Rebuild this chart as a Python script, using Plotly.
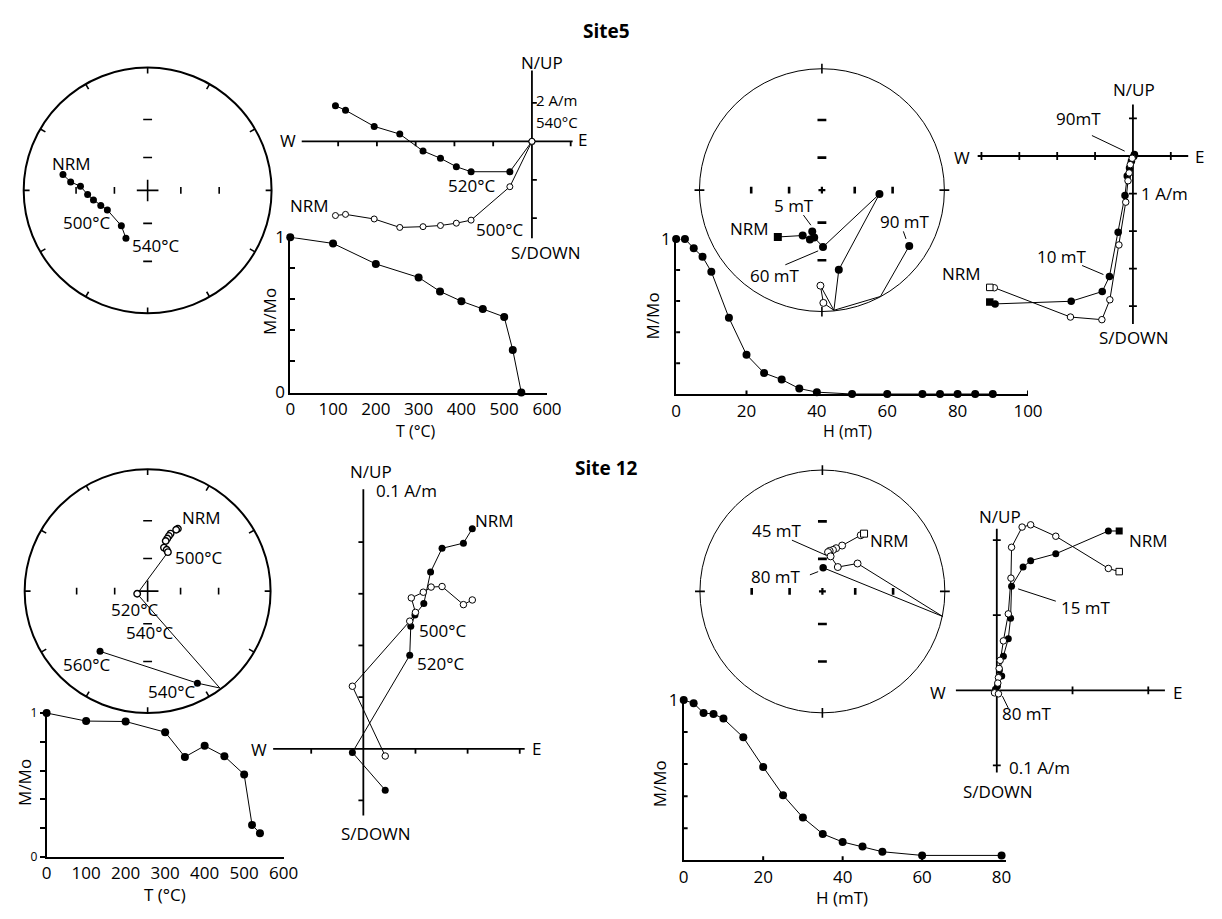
import numpy as np
import plotly.graph_objects as go

W, H = 1222, 919
FONT = "Open Sans"
FS = 17

# ======================= DATA =======================
# ---- Site 5, thermal demagnetisation ----
s5t_temp = [0, 100, 200, 300, 350, 400, 450, 500, 520, 540]
s5t_mmo = [1.0, 0.96, 0.828, 0.741, 0.651, 0.588, 0.538, 0.487, 0.274, 0.0]
# stereonet (stereographic projection, unit radius; x = East, y = North)
s5t_st_x = [-0.683, -0.621, -0.542, -0.484, -0.437, -0.378, -0.325, -0.212, -0.175]
s5t_st_y = [0.129, 0.069, 0.034, -0.034, -0.077, -0.122, -0.159, -0.288, -0.389]
s5t_st_kind = ["f"] * 9
# Zijderveld (A/m): E shared, N (horizontal plane), Up (vertical plane)
s5t_zij_e = [-10.14, -9.62, -8.14, -6.82, -5.62, -4.72, -3.90, -3.14, -1.14, 0.0]
s5t_zij_n = [1.86, 1.62, 0.78, 0.38, -0.50, -0.88, -1.32, -1.58, -1.58, 0.0]
s5t_zij_up = [-3.86, -3.80, -4.04, -4.48, -4.44, -4.38, -4.26, -4.10, -2.36, 0.0]

# ---- Site 5, AF demagnetisation ----
s5a_field = [0, 2.5, 5, 7.5, 10, 15, 20, 25, 30, 35, 40, 50, 60, 70, 75, 80, 85, 90]
s5a_mmo = [1.0, 1.0, 0.939, 0.885, 0.789, 0.493, 0.255, 0.138, 0.096, 0.038, 0.015,
           0.003, 0.003, 0.003, 0.003, 0.003, 0.003, 0.003]
s5a_st_x = [-0.360, -0.157, -0.098, -0.079, -0.063, 0.009, 0.470, 0.138, 0.098,
            -0.012, 0.012, 0.098, 0.478, 0.713]
s5a_st_y = [-0.386, -0.374, -0.407, -0.340, -0.391, -0.468, -0.032, -0.656, -0.990,
            -0.787, -0.929, -0.990, -0.876, -0.460]
s5a_st_kind = ["fs", "f", "f", "f", "f", "f", "f", "f", "e", "o", "o", "e", "e", "f"]
s5a_zij_he = [-3.78, -3.64, -1.63, -0.81, -0.62, -0.39, -0.21, -0.15, -0.09, -0.04, 0.02, 0.04]
s5a_zij_hn = [-3.89, -3.94, -3.87, -3.61, -3.21, -2.03, -1.05, -0.53, -0.32, -0.14, -0.01, 0.04]
s5a_zij_h_kind = ["fs"] + ["f"] * 11
s5a_zij_ve = [-3.78, -3.66, -1.65, -0.82, -0.61, -0.37, -0.19, -0.13, -0.10, -0.07, -0.02]
s5a_zij_vu = [-3.50, -3.51, -4.29, -4.36, -3.83, -2.37, -1.23, -0.66, -0.45, -0.23, -0.06]
s5a_zij_v_kind = ["os"] + ["o"] * 10

# ---- Site 12, thermal demagnetisation ----
s12t_temp = [0, 100, 200, 300, 350, 400, 450, 500, 520, 540]
s12t_mmo = [1.0, 0.944, 0.941, 0.867, 0.695, 0.772, 0.700, 0.573, 0.223, 0.165]
s12t_st_x = [0.246, 0.232, 0.187, 0.173, 0.160, 0.147, 0.133, 0.155, 0.165, -0.085,
             0.587, 0.405, -0.387]
s12t_st_y = [0.512, 0.504, 0.472, 0.453, 0.432, 0.411, 0.357, 0.339, 0.320, -0.022,
             -0.795, -0.755, -0.494]
s12t_st_kind = ["o"] * 10 + ["e", "f", "f"]
s12t_zij_he = [0.0418, 0.0384, 0.0302, 0.0258, 0.0232, 0.0198, 0.0182, 0.0178, -0.0042, 0.0084]
s12t_zij_hn = [0.0852, 0.0796, 0.0776, 0.0684, 0.0562, 0.0518, 0.0474, 0.0362, -0.0014, -0.0160]
s12t_zij_ve = [0.0418, 0.0384, 0.0302, 0.0260, 0.0230, 0.0184, 0.0200, 0.0178, -0.0042, 0.0084]
s12t_zij_vu = [0.0576, 0.0558, 0.0628, 0.0626, 0.0606, 0.0584, 0.0528, 0.0494, 0.0242, -0.0028]

# ---- Site 12, AF demagnetisation ----
s12a_field = [0, 2.5, 5, 7.5, 10, 15, 20, 25, 30, 35, 40, 45, 50, 60, 80]
s12a_mmo = [1.0, 0.980, 0.919, 0.913, 0.884, 0.767, 0.582, 0.406, 0.266, 0.164, 0.114,
            0.085, 0.053, 0.030, 0.030]
s12a_st_x = [0.340, 0.313, 0.161, 0.112, 0.086, 0.059, 0.046, 0.067, 0.126, 0.287, 0.982, 0.006]
s12a_st_y = [0.476, 0.463, 0.378, 0.356, 0.342, 0.334, 0.324, 0.289, 0.201, 0.230, -0.206, 0.195]
s12a_st_kind = ["os"] + ["o"] * 9 + ["e", "f"]
s12a_zij_he = [0.1616, 0.1473, 0.0779, 0.0447, 0.0347, 0.0195, 0.0182, 0.0152, 0.0087,
               0.0035, 0.0065, 0.0009, -0.0017]
s12a_zij_hn = [0.2122, 0.2122, 0.1818, 0.1727, 0.1641, 0.1386, 0.0961, 0.0688, 0.0455,
               0.0269, 0.0191, 0.0057, 0.0013]
s12a_zij_h_kind = ["fs"] + ["f"] * 12
s12a_zij_ve = [0.1616, 0.1473, 0.0779, 0.0447, 0.0334, 0.0195, 0.0187, 0.0152, 0.0087,
               0.0044, 0.0031, 0.0022, 0.0013, -0.0030, 0.0022]
s12a_zij_vu = [0.1581, 0.1623, 0.2052, 0.2204, 0.2174, 0.1905, 0.1494, 0.1018, 0.0658,
               0.0399, 0.0291, 0.0169, 0.0096, -0.0034, -0.0047]
s12a_zij_v_kind = ["os"] + ["o"] * 14

INC_TICKS = [30, 60]          # inclination graticule on stereonets
M_TICKS = [0, 0.2, 0.4, 0.6, 0.8, 1.0]

# ======================= HELPERS =======================
fig = go.Figure()
shapes, annotations = [], []
layout = dict(width=W, height=H, margin=dict(l=0, r=0, t=0, b=0),
              paper_bgcolor="white", plot_bgcolor="rgba(0,0,0,0)", showlegend=False,
              font=dict(family=FONT, size=FS, color="black"))


def ax_names(n):
    s = "" if n == 1 else str(n)
    return "x" + s, "y" + s, "xaxis" + s, "yaxis" + s


def place_axes(n, box, origin, scale):
    xr, yr, xk, yk = ax_names(n)
    l, r, t, b = box
    ox, oy = origin
    layout[xk] = dict(domain=[l / W, r / W], range=[(l - ox) / scale, (r - ox) / scale],
                      anchor=yr, visible=False, fixedrange=True)
    layout[yk] = dict(domain=[1 - b / H, 1 - t / H], range=[(oy - b) / scale, (oy - t) / scale],
                      anchor=xr, visible=False, fixedrange=True)


def lines(n, x, y, width=1.0):
    xr, yr, _, _ = ax_names(n)
    fig.add_trace(go.Scatter(x=x, y=y, mode="lines", line=dict(color="black", width=width),
                             xaxis=xr, yaxis=yr, hoverinfo="skip", cliponaxis=False))


SYM = {"f": ("circle", True), "o": ("circle", False), "fs": ("square", True), "os": ("square", False)}


def points(n, x, y, kinds, size=7.5, osize=6.5, owidth=1.0):
    xr, yr, _, _ = ax_names(n)
    for k, (sym, filled) in SYM.items():
        idx = [i for i, kk in enumerate(kinds) if kk == k]
        if not idx:
            continue
        fig.add_trace(go.Scatter(
            x=[x[i] for i in idx], y=[y[i] for i in idx], mode="markers",
            marker=dict(symbol=sym, size=size if filled else osize,
                        color="black" if filled else "white",
                        line=dict(color="black", width=0 if filled else owidth)),
            xaxis=xr, yaxis=yr, hoverinfo="skip", cliponaxis=False))


def segs(pairs):
    xs, ys = [], []
    for (x0, y0, x1, y1) in pairs:
        xs += [x0, x1, None]
        ys += [y0, y1, None]
    return xs, ys


def stereonet(n, cx, cy, R, heavy):
    pad = 14
    place_axes(n, (cx - R - pad, cx + R + pad, cy - R - pad, cy + R + pad), (cx, cy), R)
    xr, yr, _, _ = ax_names(n)
    shapes.append(dict(type="circle", xref=xr, yref=yr, x0=-1, y0=-1, x1=1, y1=1,
                       line=dict(color="black", width=2 if heavy else 1)))
    p = 1.0 / R
    pairs = []
    if heavy:
        for az in range(0, 360, 30):
            a = np.radians(az)
            pairs.append((np.sin(a), np.cos(a), (1 - 6 * p) * np.sin(a), (1 - 6 * p) * np.cos(a)))
    else:
        for az in range(0, 360, 90):
            a = np.radians(az)
            pairs.append(((1 - 5 * p) * np.sin(a), (1 - 5 * p) * np.cos(a),
                          (1 + 5 * p) * np.sin(a), (1 + 5 * p) * np.cos(a)))
    xs, ys = segs(pairs)
    lines(n, xs, ys, 1.6)
    radii = [np.tan(np.radians(90 - i) / 2) for i in INC_TICKS]
    pairs = []
    for r in radii:
        for s in (-1, 1):
            pairs.append((s * r, -3.5 * p, s * r, 3.5 * p))
            pairs.append((-4.5 * p, s * r, 4.5 * p, s * r))
    xs, ys = segs(pairs)
    lines(n, xs, ys, 1.6 if heavy else 2.6)
    c = (11 if heavy else 3.5) * p
    xs, ys = segs([(-c, 0, c, 0), (0, -c, 0, c)])
    lines(n, xs, ys, 1.6 if heavy else 2.2)


def stereo_data(n, x, y, kinds, size=7.5, osize=6.5, owidth=1.0):
    lines(n, x, y, 1.0)
    points(n, x, y, kinds, size, osize, owidth)


def zij(n, box, origin, scale, hx, vy, xt, yt, xside, yside, tl=5):
    place_axes(n, box, origin, scale)
    p = 1.0 / scale
    xs, ys = segs([(hx[0], 0, hx[1], 0), (0, vy[0], 0, vy[1])])
    lines(n, xs, ys, 1.8)
    pairs = []
    xo = {"down": (-tl * p, 0), "cross": (-tl * p, tl * p), "up": (0, tl * p)}[xside]
    yo = {"left": (-tl * p, 0), "cross": (-tl * p, tl * p), "right": (0, tl * p)}[yside]
    for t in xt:
        pairs.append((t, xo[0], t, xo[1]))
    for t in yt:
        pairs.append((yo[0], t, yo[1], t))
    xs, ys = segs(pairs)
    lines(n, xs, ys, 1.8)


def demag(n, box, xmax, xtickvals, yticktext, ytick_mode, ylabsize, xtick_cross=()):
    l, r, t, b = box
    xr, yr, xk, yk = ax_names(n)
    layout[xk] = dict(domain=[l / W, r / W], range=[0, xmax], anchor=yr, showline=True,
                      linecolor="black", linewidth=1.8, ticks="", tickvals=xtickvals,
                      tickfont=dict(size=FS), showgrid=False, zeroline=False, fixedrange=True)
    ya = dict(domain=[1 - b / H, 1 - t / H], range=[0, 1], anchor=xr, showline=True,
              linecolor="black", linewidth=1.8, tickvals=M_TICKS, ticktext=yticktext,
              tickfont=dict(size=ylabsize), showgrid=False, zeroline=False, fixedrange=True)
    if ytick_mode in ("inside", "outside"):
        ya.update(ticks=ytick_mode, ticklen=5, tickwidth=1.5, tickcolor="black")
    else:
        ya.update(ticks="")
    layout[yk] = ya
    if ytick_mode == "cross":
        px = xmax / (r - l)
        py = 1.0 / (b - t)
        pairs = [(-4 * px, v, 4 * px, v) for v in M_TICKS[1:-1]]
        pairs += [(v, -4 * py, v, 4 * py) for v in xtick_cross]
        xs, ys = segs(pairs)
        lines(n, xs, ys, 2)


def label(text, px, py, size=FS, angle=0, xanchor="center"):
    annotations.append(dict(text=text, x=px / W, y=1 - py / H, xref="paper", yref="paper",
                            showarrow=False, textangle=angle, xanchor=xanchor, yanchor="middle",
                            borderpad=0,
                            font=dict(family=FONT, size=size, color="black")))


def leader(x0, y0, x1, y1):
    shapes.append(dict(type="line", xref="paper", yref="paper", x0=x0 / W, y0=1 - y0 / H,
                       x1=x1 / W, y1=1 - y1 / H, line=dict(color="black", width=1)))


# ======================= SITE 5 — THERMAL =======================
stereonet(1, 145, 183, 126, heavy=True)
stereo_data(1, s5t_st_x, s5t_st_y, s5t_st_kind, size=7)
label("NRM", 68, 155)
label("500°C", 83, 216)
label("540°C", 153, 240)

zij(2, (285, 600, 42, 255), (535.7, 132.7), 19.7, (-11.88, 2.10), (-5.04, 3.69),
    [-10, -8, -6, -4, -2, 2], [2, -2, -4], "down", "right")
lines(2, s5t_zij_e, s5t_zij_n, 1.0)
lines(2, s5t_zij_e, s5t_zij_up, 1.0)
points(2, s5t_zij_e, s5t_zij_n, ["f"] * len(s5t_zij_e), size=7)
points(2, s5t_zij_e, s5t_zij_up, ["o"] * len(s5t_zij_e), osize=6)
label("W", 288, 132)
label("E", 587, 131)
label("N/UP", 546, 52)
label("S/DOWN", 550, 247)
label("2 A/m", 561, 90, size=15)
label("540°C", 561, 113, size=15)
label("NRM", 310, 198)
label("520°C", 474, 178)
label("500°C", 503, 223)

demag(3, (290, 551, 231, 390.3), 600, [0, 100, 200, 300, 400, 500, 600],
      ["0", "", "", "", "", "1"], "inside", FS)
lines(3, s5t_temp, s5t_mmo, 1.0)
points(3, s5t_temp, s5t_mmo, ["f"] * len(s5t_temp), size=8)
label("M/Mo", 269, 307, angle=-90)
label("T (°C)", 418, 430, size=16)

# ======================= SITE 5 — AF =======================
stereonet(4, 830.5, 182.7, 124.5, heavy=False)
stereo_data(4, s5a_st_x, s5a_st_y, s5a_st_kind, size=8, osize=7)
label("5 mT", 802, 198)
leader(811.7, 208.3, 819.3, 218.7)
label("NRM", 757, 222)
label("60 mT", 783, 270)
leader(793.3, 259.3, 826.7, 245)
label("90 mT", 915, 215)
leader(913.3, 225, 916, 232.7)

zij(5, (955, 1222, 60, 345), (1146.7, 147.7), 38.5, (-4.10, 1.46), (-4.475, 1.37),
    [-4, -3, -2, -1, 1], [1, -1, -2, -3, -4], "cross", "cross", tl=4)
lines(5, s5a_zij_he, s5a_zij_hn, 1.0)
lines(5, s5a_zij_ve, s5a_zij_vu, 1.0)
points(5, s5a_zij_he, s5a_zij_hn, s5a_zij_h_kind, size=7.5)
points(5, s5a_zij_ve, s5a_zij_vu, s5a_zij_v_kind, osize=6.5)
label("W", 973, 149)
label("E", 1214, 148)
label("N/UP", 1148, 80)
label("S/DOWN", 1148, 334)
label("1 A/m", 1179, 186)
label("NRM", 972, 268)
label("10 mT", 1075, 251)
leader(1095, 260, 1116.7, 269.3)
label("90mT", 1091, 109)
leader(1105, 126.7, 1138.3, 142.7)

demag(6, (682.3, 1040, 232.7, 392.3), 100, [0, 20, 40, 60, 80, 100],
      ["", "", "", "", "", "1"], "cross", FS, xtick_cross=[20, 40, 60, 80, 100])
lines(6, s5a_field, s5a_mmo, 1.0)
points(6, s5a_field, s5a_mmo, ["f"] * len(s5a_field), size=8)
label("M/Mo", 658, 312, angle=-90)
label("H (mT)", 857, 430, size=16)

# ======================= SITE 12 — THERMAL =======================
stereonet(7, 145, 594, 125, heavy=True)
stereo_data(7, s12t_st_x, s12t_st_y, s12t_st_kind, size=7, osize=6.5, owidth=1.4)
label("NRM", 200, 518)
label("500°C", 197, 559)
label("520°C", 132, 613)
label("540°C", 147, 636)
label("560°C", 83, 669)
label("540°C", 169, 697)

zij(8, (250, 560, 460, 860), (364.3, 755.7), 2650, (-0.0346, 0.0619), (-0.0258, 0.1005),
    [-0.02, 0.02, 0.04, 0.06], [-0.02, 0.02, 0.04, 0.06, 0.08], "down", "left")
lines(8, s12t_zij_he, s12t_zij_hn, 1.0)
lines(8, s12t_zij_ve, s12t_zij_vu, 1.0)
points(8, s12t_zij_he, s12t_zij_hn, ["f"] * len(s12t_zij_he), size=7)
points(8, s12t_zij_ve, s12t_zij_vu, ["o"] * len(s12t_zij_ve), osize=6.5)
label("W", 258, 756)
label("E", 540, 755)
label("N/UP", 372, 471)
label("S/DOWN", 377, 843)
label("0.1 A/m", 408, 491)
label("NRM", 498, 522)
label("500°C", 445, 634)
label("520°C", 443, 668)

demag(9, (42.3, 283.3, 719, 866.7), 600, [0, 100, 200, 300, 400, 500, 600],
      ["0", "", "", "", "", "1"], "outside", 12)
lines(9, s12t_temp, s12t_mmo, 1.0)
points(9, s12t_temp, s12t_mmo, ["f"] * len(s12t_temp), size=8)
label("M/Mo", 20, 790, angle=-90)
label("T (°C)", 163, 905)

# ======================= SITE 12 — AF =======================
stereonet(10, 831, 594.3, 124.5, heavy=False)
stereo_data(10, s12a_st_x, s12a_st_y, s12a_st_kind, size=7.5, osize=7)
label("45 mT", 785, 532)
leader(800, 541.7, 835, 557.3)
label("80 mT", 784, 579)
leader(818.3, 577.3, 826.7, 574)
label("NRM", 899, 542)

zij(11, (940, 1222, 500, 815), (1008.3, 695.7), 770, (-0.054, 0.222), (-0.1096, 0.2152),
    [0.1, 0.2], [0.2, 0.1, -0.1], "cross", "cross", tl=4)
lines(11, s12a_zij_he, s12a_zij_hn, 1.0)
lines(11, s12a_zij_ve, s12a_zij_vu, 1.0)
points(11, s12a_zij_he, s12a_zij_hn, s12a_zij_h_kind, size=7)
points(11, s12a_zij_ve, s12a_zij_vu, s12a_zij_v_kind, osize=6.5)
label("W", 949, 698)
label("E", 1192, 698)
label("N/UP", 1012, 517)
label("S/DOWN", 1010, 800)
label("0.1 A/m", 1052, 775)
label("NRM", 1163, 542)
label("15 mT", 1099, 611)
leader(1030, 591.7, 1068.3, 604.3)
label("80 mT", 1039, 719)
leader(1014, 701.7, 1020, 714)

demag(12, (690, 1017.2, 705.7, 870), 81, [0, 20, 40, 60, 80],
      ["", "", "", "", "", "1"], "cross", FS, xtick_cross=[20, 40, 60])
lines(12, s12a_field, s12a_mmo, 1.0)
points(12, s12a_field, s12a_mmo, ["f"] * len(s12a_field), size=8)
label("M/Mo", 665, 792, angle=-90)
label("H (mT)", 851, 908)

# ======================= TITLES =======================
label("<b>Site5</b>", 612, 20, size=19)
label("<b>Site 12</b>", 612, 468, size=19)

layout["shapes"] = shapes
layout["annotations"] = annotations
fig.update_layout(**layout)
fig.write_html("out.html",
               post_script="document.body.style.margin='0px';document.body.style.padding='0px';")
